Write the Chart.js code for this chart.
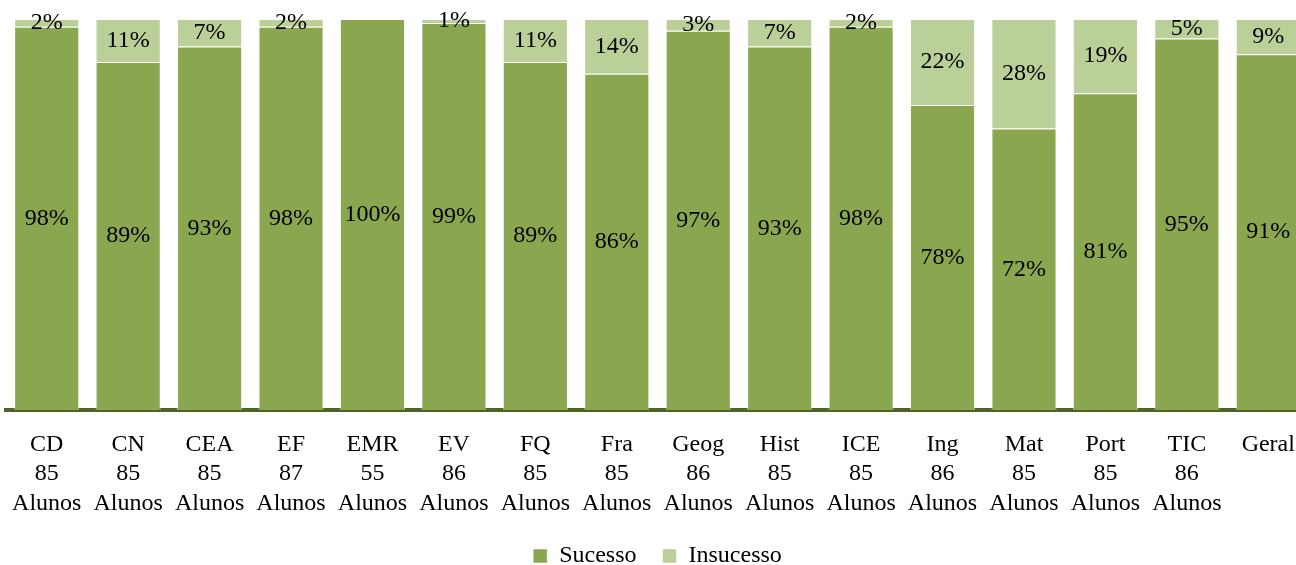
<!DOCTYPE html>
<html>
<head>
<meta charset="utf-8">
<script src="https://cdn.jsdelivr.net/npm/chart.js@4"></script>
<style>
  html, body { margin: 0; padding: 0; background: #fff; overflow: hidden; }
  #wrap { width: 1318px; height: 565px; }
</style>
</head>
<body>
<div id="wrap"><canvas id="chart_area"></canvas></div>
<script>
// categories and student counts
const subjects = ['CD', 'CN', 'CEA', 'EF', 'EMR', 'EV', 'FQ', 'Fra', 'Geog', 'Hist', 'ICE', 'Ing', 'Mat', 'Port', 'TIC', 'Geral'];
const students = ['85', '85', '85', '87', '55', '86', '85', '85', '86', '85', '85', '86', '85', '85', '86', ''];

// percentages
const sucesso   = [98, 89, 93, 98, 100, 99, 89, 86, 97, 93, 98, 78, 72, 81, 95, 91];
const insucesso = [2, 11, 7, 2, 0, 1, 11, 14, 3, 7, 2, 22, 28, 19, 5, 9];

const labels = subjects.map((s, i) => students[i] ? [s, students[i], 'Alunos'] : [s]);

const FONT = '"Liberation Serif", "Times New Roman", serif';

// draw the percentage in the middle of each segment
const valueLabels = {
  id: 'valueLabels',
  afterDatasetsDraw(chart) {
    const ctx = chart.ctx;
    ctx.save();
    ctx.font = '24px ' + FONT;
    ctx.fillStyle = '#000';
    ctx.textAlign = 'center';
    ctx.textBaseline = 'middle';
    chart.data.datasets.forEach((ds, di) => {
      const meta = chart.getDatasetMeta(di);
      meta.data.forEach((bar, i) => {
        const v = ds.data[i];
        if (!v) return;
        ctx.fillText(v + '%', bar.x, (bar.y + bar.base) / 2);
      });
    });
    ctx.restore();
  }
};

const ctx = document.getElementById('chart_area').getContext('2d');
const myChart = new Chart(ctx, {
  type: 'bar',
  data: {
    labels: labels,
    datasets: [
      {
        label: 'Sucesso',
        data: sucesso,
        backgroundColor: '#8aa64f',
        borderColor: 'rgba(255,255,255,0.5)',
        borderWidth: 1,
        borderSkipped: 'bottom'
      },
      {
        label: 'Insucesso',
        data: insucesso,
        backgroundColor: '#bbcf98',
        borderColor: 'rgba(255,255,255,0.5)',
        borderWidth: 1,
        borderSkipped: 'bottom'
      }
    ]
  },
  options: {
    responsive: true,
    maintainAspectRatio: false,
    animation: false,
    layout: { padding: { left: 6, right: 9, top: 19, bottom: -13 } },
    datasets: { bar: { barPercentage: 1, categoryPercentage: 0.8 } },
    scales: {
      x: {
        stacked: true,
        // invisible tick marks only used to push the labels down
        grid: { display: true, drawOnChartArea: false, drawTicks: true, tickLength: 20, color: 'rgba(0,0,0,0)' },
        border: { display: true, color: '#4f6228', width: 4 },
        ticks: {
          color: '#000',
          font: { family: FONT, size: 24, lineHeight: 1.22 },
          padding: 0,
          maxRotation: 0,
          autoSkip: false
        }
      },
      y: {
        stacked: true,
        display: false,
        min: 0,
        max: 100
      }
    },
    plugins: {
      legend: {
        position: 'bottom',
        labels: {
          color: '#000',
          font: { family: FONT, size: 24 },
          boxWidth: 14,
          boxHeight: 14,
          padding: 26
        }
      },
      tooltip: { enabled: false }
    }
  },
  plugins: [valueLabels]
});
</script>
</body>
</html>
